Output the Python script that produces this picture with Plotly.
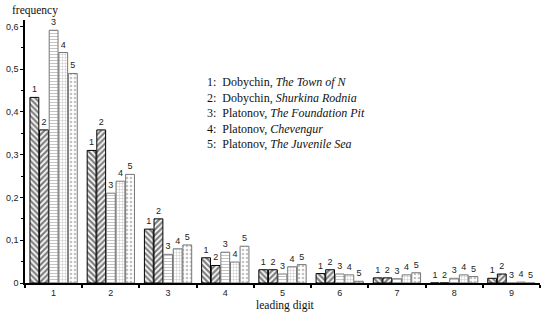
import plotly.graph_objects as go

digits = ["1", "2", "3", "4", "5", "6", "7", "8", "9"]
s1 = [0.434, 0.310, 0.126, 0.059, 0.031, 0.022, 0.012, 0.0, 0.011]
s2 = [0.358, 0.358, 0.150, 0.041, 0.031, 0.031, 0.012, 0.0, 0.021]
s3 = [0.591, 0.210, 0.067, 0.072, 0.021, 0.021, 0.010, 0.011, 0.0]
s4 = [0.539, 0.238, 0.080, 0.049, 0.038, 0.019, 0.019, 0.019, 0.002]
s5 = [0.490, 0.254, 0.089, 0.086, 0.043, 0.004, 0.024, 0.015, 0.0]
series = [s1, s2, s3, s4, s5]
series_ids = ["1", "2", "3", "4", "5"]
legend_lines = [
    "1:  Dobychin, <i>The Town of N</i>",
    "2:  Dobychin, <i>Shurkina Rodnia</i>",
    "3:  Platonov, <i>The Foundation Pit</i>",
    "4:  Platonov, <i>Chevengur</i>",
    "5:  Platonov, <i>The Juvenile Sea</i>",
]
y_tickvals = [0, 0.1, 0.2, 0.3, 0.4, 0.5, 0.6]
y_ticktext = ["0", "0,1", "0,2", "0,3", "0,4", "0,5", "0,6"]

styles = [
    dict(shape="\\", size=4, solidity=0.55, fgcolor="#000000", line="#000000"),
    dict(shape="/", size=4, solidity=0.55, fgcolor="#000000", line="#000000"),
    dict(shape="-", size=3, solidity=0.35, fgcolor="#8a8a8a", line="#777777"),
    dict(shape="+", size=3, solidity=0.3, fgcolor="#8a8a8a", line="#777777"),
    dict(shape=".", size=4, solidity=0.35, fgcolor="#8a8a8a", line="#777777"),
]

serif = "Liberation Serif, Times New Roman, serif"

fig = go.Figure()
for vals, sid, st in zip(series, series_ids, styles):
    fig.add_trace(go.Bar(
        x=digits, y=vals, name=sid,
        text=[sid] * len(vals), textposition="outside",
        textfont=dict(family="Liberation Sans, Arial", size=9, color="#222222"),
        cliponaxis=False,
        marker=dict(
            color="white",
            line=dict(color=st["line"], width=1),
            pattern=dict(shape=st["shape"], size=st["size"], solidity=st["solidity"],
                         fgcolor=st["fgcolor"], bgcolor="white", fillmode="overlay"),
        ),
    ))

fig.add_annotation(
    xref="paper", yref="paper", x=0.35, y=0.80, xanchor="left", yanchor="top",
    text="<br>".join(legend_lines), align="left", showarrow=False,
    font=dict(family=serif, size=12, color="#111111"),
)
fig.add_annotation(
    xref="paper", yref="paper", x=-0.03, y=1.07, xanchor="left", yanchor="top",
    text="frequency", showarrow=False,
    font=dict(family=serif, size=11.5, color="#111111"),
)
fig.add_annotation(
    xref="paper", yref="paper", x=0.505, y=-0.087, xanchor="center", yanchor="middle",
    text="leading digit", showarrow=False,
    font=dict(family=serif, size=11.5, color="#111111"),
)

fig.update_layout(
    width=550, height=318,
    margin=dict(l=25, r=10, t=20, b=35),
    plot_bgcolor="white", paper_bgcolor="white",
    barmode="group", bargap=0.16, bargroupgap=0.08,
    showlegend=False, separators=", ",
    font=dict(family="Liberation Sans, Arial", size=9, color="#222222"),
)
fig.update_xaxes(
    type="category", tickson="boundaries", ticks="outside", ticklen=3, tickwidth=1.5,
    tickcolor="black", showline=True, linecolor="black", linewidth=2, showgrid=False,
    automargin=False, tickfont=dict(size=9),
)
fig.update_yaxes(
    range=[0, 0.615], ticks="outside", ticklen=3,
    tickcolor="black", tickwidth=1.2, showline=True, linecolor="black", linewidth=1.5,
    showgrid=False, zeroline=False, tickfont=dict(size=9), automargin=False,
    tickvals=y_tickvals, ticktext=y_ticktext,
    minor=dict(dtick=0.05, ticks="outside", ticklen=2, tickcolor="black"),
)

fig.write_html(
    "out.html",
    config={"displayModeBar": False},
    post_script="document.body.style.margin='0';document.body.style.overflow='hidden';",
)
